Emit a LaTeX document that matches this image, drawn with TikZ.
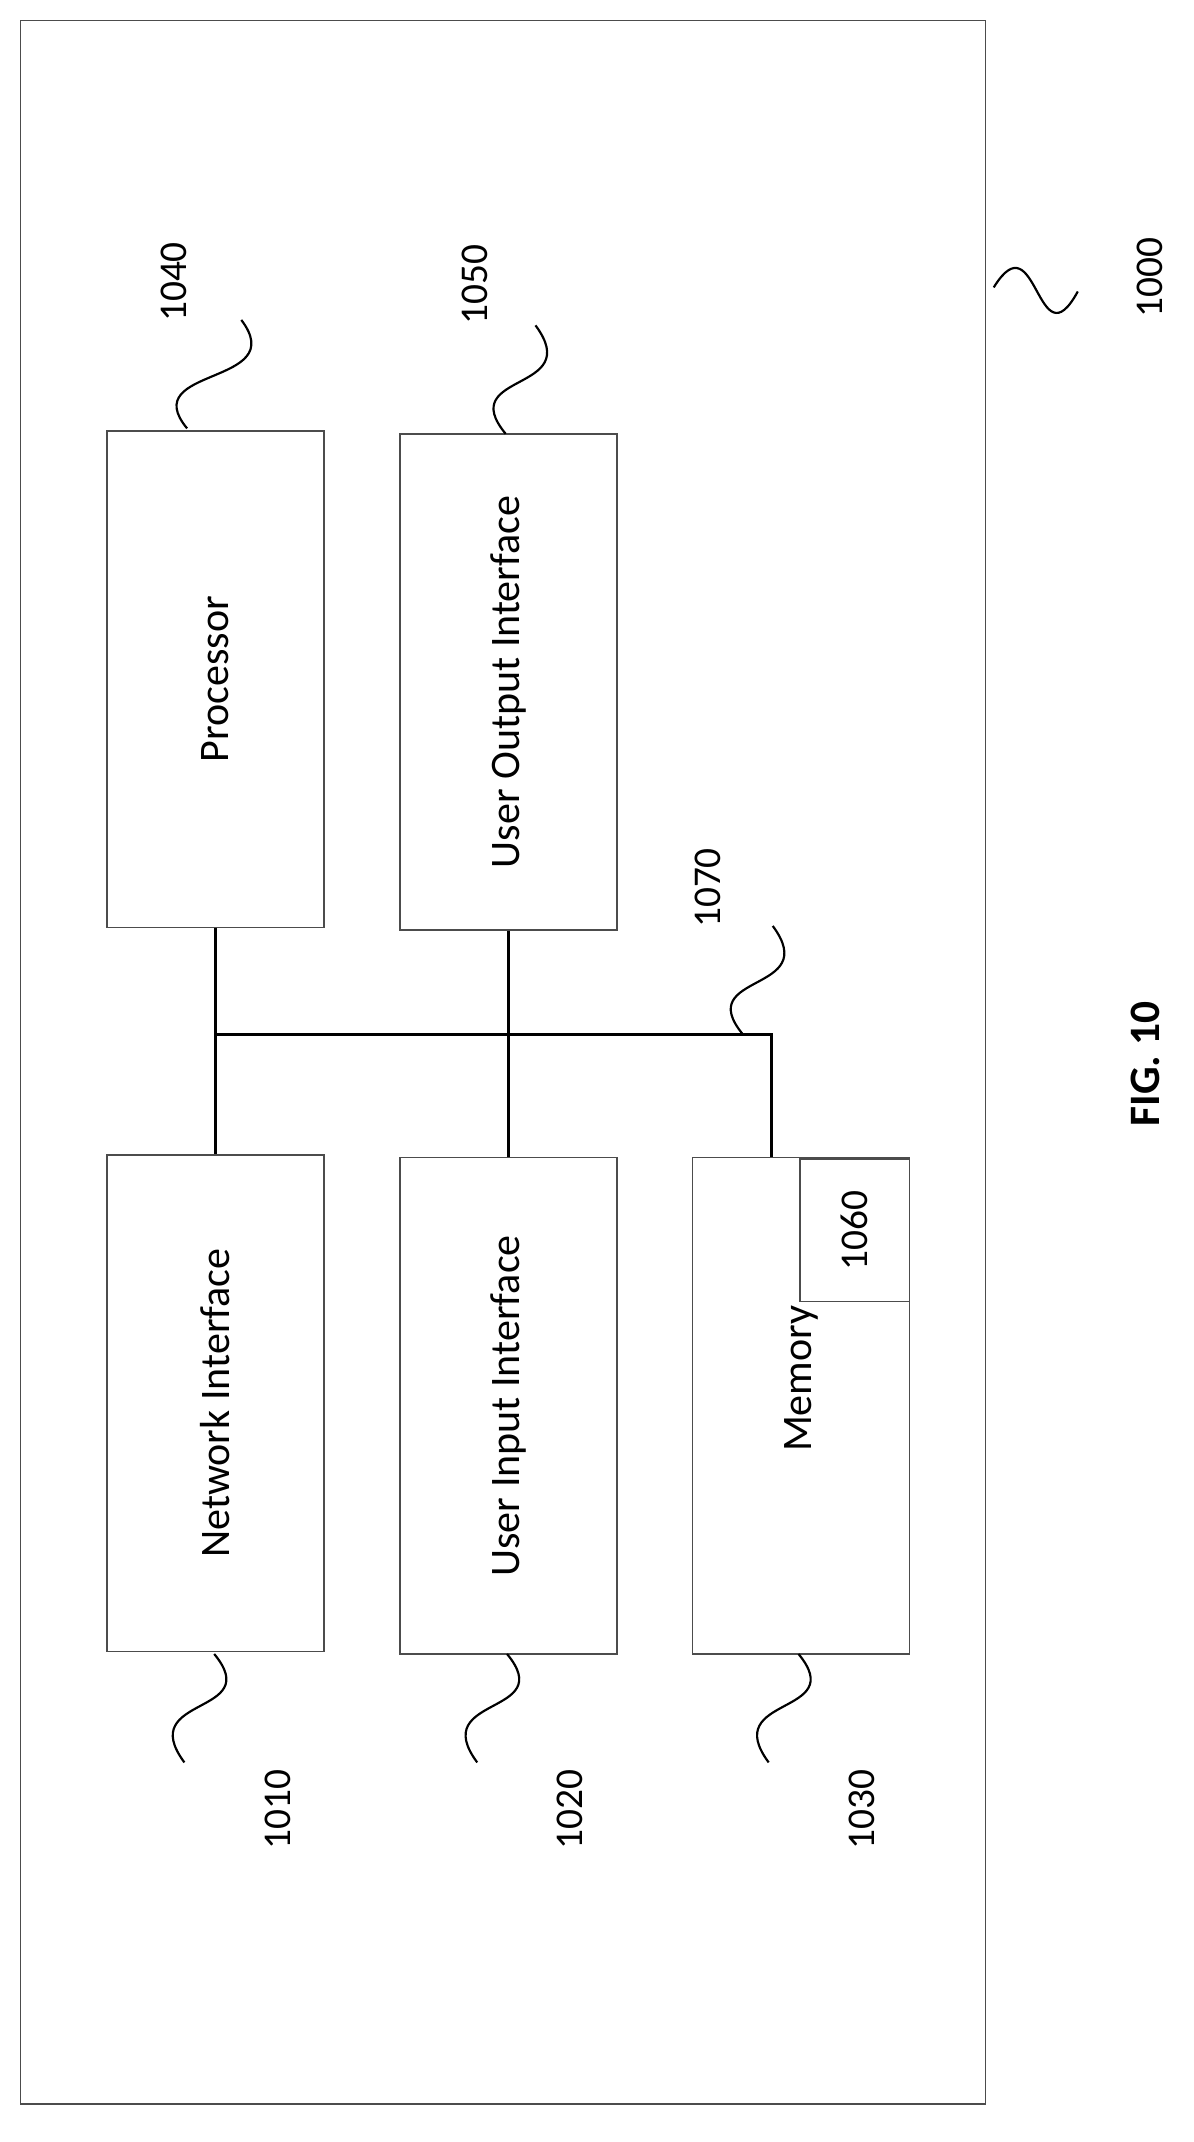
\documentclass[tikz,border=0pt]{standalone}
\usepackage{fontspec}
\setmainfont{Carlito}
\begin{document}
\begin{tikzpicture}[x=1pt,y=-1pt,
  box/.style={draw=black!70,line width=1pt,rotate=90,minimum width=366pt,minimum height=160pt,inner sep=0pt,font=\fontsize{31}{37}\selectfont},
  lab/.style={rotate=90,font=\fontsize{29}{35}\selectfont},
  sq/.style={line width=1.6pt},
  bus/.style={line width=2.2pt}]
\useasboundingbox (0,0) rectangle (880,1580);
\draw[black!70,line width=1pt] (15,15) rectangle (727,1552);
\node[box] (proc) at (159,501) {Processor};
\node[box] (uout) at (375,503) {User Output Interface};
\node[box] (net) at (159,1035) {Network Interface};
\node[box] (uin) at (375,1037) {User Input Interface};
\node[box] (mem) at (591,1037) {\hspace*{40pt}Memory};
\node[draw=black!70,line width=1pt,minimum width=81pt,minimum height=105pt,inner sep=0pt] (m1060) at (630.5,907.5) {};
\node[lab] at (630.5,907.5) {1060};
\coordinate (b1) at (159,763);
\coordinate (b3) at (569,763);
\draw[bus] (proc.west) -- (net.east);
\draw[bus] (uout.west) -- (uin.east);
\draw[bus] (b1) -- (b3) -- (mem.east -| b3);
% squiggles
\draw[sq] (138,316) .. controls (100,270) and (215,285) .. (178,236);
\node[lab] at (128,208) {1040};
\draw[sq] (373,320) .. controls (335,274) and (432,290) .. (395,240);
\node[lab] at (350,210) {1050};
\draw[sq] (548,763) .. controls (510,717) and (607,733) .. (570,683);
\node[lab] at (522,655) {1070};
\draw[sq] (733,212) .. controls (765,160) and (765,270) .. (795,215);
\node[lab] at (848,205) {1000};
\draw[sq] (158,1220) .. controls (196,1266) and (99,1250) .. (136,1300);
\node[lab] at (205,1335) {1010};
\draw[sq] (374,1220) .. controls (412,1266) and (315,1250) .. (352,1300);
\node[lab] at (420,1335) {1020};
\draw[sq] (589,1220) .. controls (627,1266) and (530,1250) .. (567,1300);
\node[lab] at (636,1335) {1030};
\node[rotate=90,font=\fontsize{32}{38}\selectfont\bfseries] at (845,785) {FIG. 10};
\end{tikzpicture}
\end{document}
